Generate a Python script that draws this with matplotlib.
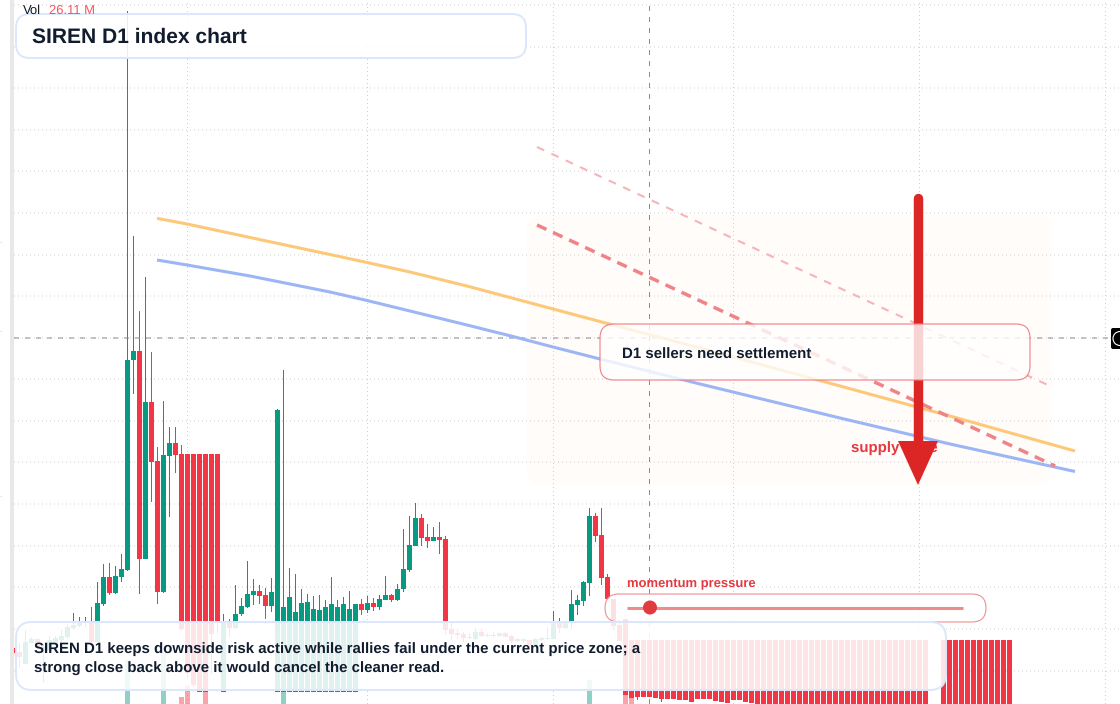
import numpy as np
import matplotlib
matplotlib.use("Agg")
import matplotlib.pyplot as plt
from matplotlib.patches import FancyBboxPatch, Polygon, Circle, Rectangle

plt.rcParams['font.family'] = ['Liberation Sans', 'DejaVu Sans']
plt.rcParams['text.hinting'] = 'no_hinting'

nan = float('nan')

# Candle values, in hundredths of the price unit, one per day
opens = [
    56, 52, 40, 61, 65, 52, 54, 61, 64, 67,
    76, 78, 82, 83, 62, 100, 127, 111, 127, 134,
    344, 353, 145, 302, 243, 112, 248, 261, 250, 250,
    250, 250, 250, 250, 250, 12, 83, 76, 90, 97,
    109, 113, 109, 98, 12, 12, 12, 12, 12, 12,
    12, 12, 12, 12, 12, 12, 12, 12, 100, 94,
    101, 97, 104, 109, 104, 115, 134, 158, 186, 167,
    163, 167, 165, 75, 71, 70, 66, 65, 72, 69,
    68, 68, 71, 68, 63, 65, 64, 59, 64, 65,
    65, 82, 76, 82, 99, 103, 121, 188, 169, 127,
    105, 79, 85, 64, 64, 64, 64, 64, 64, 64,
    64, 64, 64, 64, 64, 64, 64, 64, 64, 64,
    64, 64, 64, 64, 64, 64, 64, 64, 64, 64,
    64, 64, 64, 64, 64, 64, 64, 64, 64, 64,
    64, 64, 64, 64, 64, 64, 64, 64, 64, 64,
    64, 64, 64, nan, nan, 64, 64, 64, 64, 64,
    64, 64, 64, 64, 64, 64, 64,
]
highs = [
    56, 61, 74, 67, 65, 60, 68, 68, 74, 80,
    91, 87, 87, 97, 122, 140, 141, 138, 150, 693,
    468, 393, 427, 352, 257, 303, 277, 277, 259, 250,
    250, 250, 250, 250, 250, 90, 85, 119, 106, 143,
    125, 119, 116, 126, 295, 334, 136, 130, 115, 110,
    108, 109, 104, 127, 104, 107, 113, 100, 105, 108,
    106, 109, 128, 110, 120, 175, 188, 201, 190, 180,
    177, 182, 168, 81, 75, 72, 71, 76, 75, 71,
    72, 71, 72, 69, 66, 65, 64, 66, 67, 76,
    93, 86, 82, 114, 109, 123, 196, 191, 196, 130,
    105, 84, 85, 64, 64, 64, 64, 64, 64, 64,
    64, 64, 64, 64, 64, 64, 64, 64, 64, 64,
    64, 64, 64, 64, 64, 64, 64, 64, 64, 64,
    64, 64, 64, 64, 64, 64, 64, 64, 64, 64,
    64, 64, 64, 64, 64, 64, 64, 64, 64, 64,
    64, 64, 64, nan, nan, 64, 64, 64, 64, 64,
    64, 64, 64, 64, 64, 64, 64,
]
lows = [
    51, 36, 40, 61, 54, 21, 54, 59, 62, 65,
    74, 77, 76, 61, 62, 98, 109, 110, 122, 133,
    310, 110, 145, 202, 100, 111, 187, 231, 73, 26,
    17, 12, 12, 30, 71, 12, 67, 75, 88, 96,
    99, 100, 85, 92, 12, 12, 12, 12, 12, 12,
    12, 12, 12, 12, 12, 12, 12, 12, 89, 91,
    93, 94, 104, 102, 103, 112, 132, 158, 158, 156,
    163, 150, 69, 64, 65, 62, 65, 64, 67, 67,
    67, 67, 67, 61, 62, 61, 57, 58, 63, 64,
    65, 71, 75, 75, 89, 98, 108, 162, 119, 104,
    74, 63, 9, 6, 4, 7, 7, 6, 2, 5,
    5, 4, 4, 2, 5, 5, 5, 3, 2, 1,
    4, 4, 2, 1, -2, -2, -2, -2, -2, -2,
    -2, -2, -2, -2, -2, -2, -2, -2, -2, -2,
    -2, -2, -2, -2, -2, -2, -2, -2, -2, -2,
    -2, -2, -2, nan, nan, -2, -2, -2, -2, -2,
    -2, -2, -2, -2, -2, -2, -2,
]
closes = [
    51, 47, 62, 65, 56, 58, 64, 66, 68, 77,
    79, 81, 83, 62, 101, 127, 111, 128, 135, 344,
    353, 145, 302, 242, 112, 249, 261, 249, 75, 31,
    19, 12, 12, 70, 83, 82, 76, 90, 98, 110,
    113, 108, 98, 112, 294, 97, 107, 92, 101, 102,
    95, 94, 97, 100, 97, 100, 95, 100, 94, 101,
    97, 105, 109, 104, 115, 135, 159, 186, 166, 163,
    167, 164, 74, 70, 69, 66, 67, 72, 68, 68,
    69, 71, 67, 63, 65, 63, 59, 65, 66, 66,
    82, 76, 82, 100, 104, 122, 188, 168, 126, 105,
    78, 63, 9, 6, 7, 7, 7, 6, 5, 5,
    5, 4, 4, 2, 5, 5, 5, 3, 2, 1,
    4, 4, 2, 1, -2, -2, -2, -2, -2, -2,
    -2, -2, -2, -2, -2, -2, -2, -2, -2, -2,
    -2, -2, -2, -2, -2, -2, -2, -2, -2, -2,
    -2, -2, -2, nan, nan, -2, -2, -2, -2, -2,
    -2, -2, -2, -2, -2, -2, -2,
]

# Only these volume bars stand out above the bottom edge
volume_days = [19, 25, 28, 29, 32, 45, 96, 102, 103]
volume_values = [44, 51, 7, 19, 14, 12, 24, 14, 14]

# Moving averages and trend lines
slow_days = [23.92, 28.92, 39.42, 52.75, 58.92, 66.08, 75.58, 89.92, 99.92, 114.42, 137.75, 156.08, 176.92]
ma_slow = [4.857, 4.80, 4.665, 4.495, 4.415, 4.32, 4.18, 3.95, 3.79, 3.56, 3.18, 2.88, 2.53]
fast_days = [23.92, 28.92, 39.42, 52.75, 58.92, 66.08, 75.58, 83.25, 89.92, 97.75, 114.42, 137.75, 156.08, 176.92]
ma_fast = [4.44, 4.39, 4.28, 4.12, 4.035, 3.93, 3.79, 3.675, 3.57, 3.45, 3.20, 2.86, 2.60, 2.325]
trend_upper_days = [87.25, 173.1]
trend_upper = [5.57, 3.17]
trend_lower_days = [87.25, 173.6]
trend_lower = [4.79, 2.38]

grid_prices = [0.33, 0.75, 1.17, 1.58, 2.00, 2.42, 2.83, 3.25, 3.66, 4.08,
               4.49, 4.91, 5.33, 5.74, 6.16, 6.57, 6.99]
grid_days = [29, 59, 90, 120, 151, 182]
cursor_day = 106
cursor_price = 3.66

title = "SIREN D1 index chart"
callout = "D1 sellers need settlement"
zone_label = "supply zone"
gauge_label = "momentum pressure"
summary = ("SIREN D1 keeps downside risk active while rallies fail under the current price zone; a\n"
           "strong close back above it would cancel the cleaner read.")

GREEN = "#089981"
RED = "#F23645"
INK = "#111c2e"
CARD_BLUE = "#dbe7fb"
ACCENT = "#e5383f"


def rounded(ax, x0, y0, x1, y1, radius, **kwargs):
    box = FancyBboxPatch((x0, y0), x1 - x0, y1 - y0,
                         boxstyle="round,pad=0,rounding_size=%s" % radius, **kwargs)
    ax.add_patch(box)
    return box


fig = plt.figure(figsize=(11.2, 7.04), dpi=100, facecolor="white")

# Price pane, one day is 6 px wide
ax = fig.add_axes([14 / 1120, 0, 1106 / 1120, 1])
ax.set_xlim((14 - 13.5) / 6, (1120 - 13.5) / 6)
ax.set_ylim(0, 7.04)
ax.axis("off")

days = np.arange(len(opens))
o = np.array(opens) / 100
h = np.array(highs) / 100
l = np.array(lows) / 100
c = np.array(closes) / 100
colors = [GREEN if c[i] >= o[i] else RED for i in days]

# snapping pushes 1 px lines a pixel to the right, so it stays off
dots = (0, (1, 3))
for price in grid_prices:
    ax.axhline(price, color="#cfcfcf", lw=0.72, ls=dots, zorder=1, snap=False)
for day in grid_days:
    ax.axvline(day, color="#cfcfcf", lw=0.72, ls=dots, zorder=1, snap=False)

# volume sits under the candles
vol_colors = [colors[d] for d in volume_days]
ax.bar(volume_days, np.array(volume_values) / 100, width=5 / 6, color=vol_colors,
       alpha=0.45, linewidth=0, zorder=2)

wicks = ax.vlines(days, l, h, colors=colors, lw=0.72, zorder=3)
wicks.set_snap(False)
ax.bar(days, np.abs(c - o), bottom=np.minimum(o, c), width=5 / 6, color=colors,
       linewidth=0, zorder=4)

cursor_dash = (0, (5, 6))
ax.axvline(cursor_day, color="#8a8d96", lw=0.72, ls=cursor_dash, zorder=5, snap=False)
ax.axhline(cursor_price, color="#8a8d96", lw=0.72, ls=cursor_dash, zorder=5, snap=False)

ax.plot(slow_days, ma_slow, color="#fdc878", lw=2.2, zorder=6, solid_capstyle="butt")
ax.plot(fast_days, ma_fast, color="#9bb5f5", lw=2.2, zorder=6, solid_capstyle="butt")
ax.plot(trend_upper_days, trend_upper, color="#f6b4b8", lw=1.5, ls=(0, (3.8, 3.8)), zorder=6)
ax.plot(trend_lower_days, trend_lower, color="#ee8488", lw=2.5, ls=(0, (3, 2.1)), zorder=6)

# Annotation layer in plain pixel coordinates
top = fig.add_axes([0, 0, 1, 1], zorder=5)
top.set_xlim(0, 1120)
top.set_ylim(704, 0)
top.axis("off")
top.patch.set_alpha(0)

top.add_patch(Rectangle((10, 0), 4, 704, color="#e8e8e8", lw=0))
for y in [242, 331, 496]:
    top.add_patch(Rectangle((0, y - 0.5), 2, 1, color="#e6e6e6", lw=0))

# pale supply zone goes behind the price pane
zone_ax = fig.add_axes([0, 0, 1, 1], zorder=-1)
zone_ax.set_xlim(0, 1120)
zone_ax.set_ylim(704, 0)
zone_ax.axis("off")
rounded(zone_ax, 527, 215, 1052, 485, 16, facecolor="#fffcfa", edgecolor="none")
ax.patch.set_alpha(0)

top.text(851, 448.5, zone_label, color=ACCENT, fontsize=10.8, fontweight="bold", va="center", zorder=2)

# Arrow over the lines
top.plot([917.8, 917.8], [197.5, 445], color="#dc2626", lw=6.8, solid_capstyle="round", zorder=3)
top.add_patch(Polygon([(898, 441), (938, 441), (918, 485)], closed=True, facecolor="#dc2626",
                      edgecolor="none", zorder=3))

# Cards
rounded(top, 16, 14, 526, 58, 14, facecolor=(1, 1, 1, 0.88), edgecolor=CARD_BLUE, lw=1.4, zorder=5)
top.text(32, 37, title, color=INK, fontsize=15.14, fontweight="bold", va="center", zorder=6)

rounded(top, 600, 324, 1030, 380, 14, facecolor=(1, 1, 1, 0.8), edgecolor="#ec7f84", lw=0.8, zorder=5)
top.text(622, 355, callout, color=INK, fontsize=10.8, fontweight="bold", va="center", zorder=6)

rounded(top, 605, 594, 986, 622, 14, facecolor=(1, 1, 1, 0.85), edgecolor="#ee8f93", lw=0.8, zorder=5)
top.plot([627, 963], [607.5, 607.5], color="#ef8a8d", lw=2.2, solid_capstyle="butt", zorder=6)
top.add_patch(Circle((650, 607.5), 7, facecolor="#e23b3f", edgecolor="none", zorder=7))
top.text(627, 584, gauge_label, color=ACCENT, fontsize=9.4, fontweight="bold", va="center", zorder=6)

rounded(top, 16, 622, 946, 690, 16, facecolor=(1, 1, 1, 0.88), edgecolor=CARD_BLUE, lw=1.4, zorder=8)
top.text(34, 659, summary, color=INK, fontsize=10.84, fontweight="bold", va="center",
         linespacing=1.57, zorder=9)

top.text(23, 11, "Vol", color="#131722", fontsize=9.4, va="center", zorder=6)
top.text(49, 11, "26.11 M", color="#f7525f", fontsize=9.4, va="center", zorder=6)

# Cursor badge cut off at the right edge
rounded(top, 1111, 328, 1130, 349, 2, facecolor="black", edgecolor="none", zorder=6)
top.add_patch(Circle((1120, 338.5), 7, facecolor="none", edgecolor="white", lw=0.8, zorder=7))

fig.savefig("out.png", dpi=100)
